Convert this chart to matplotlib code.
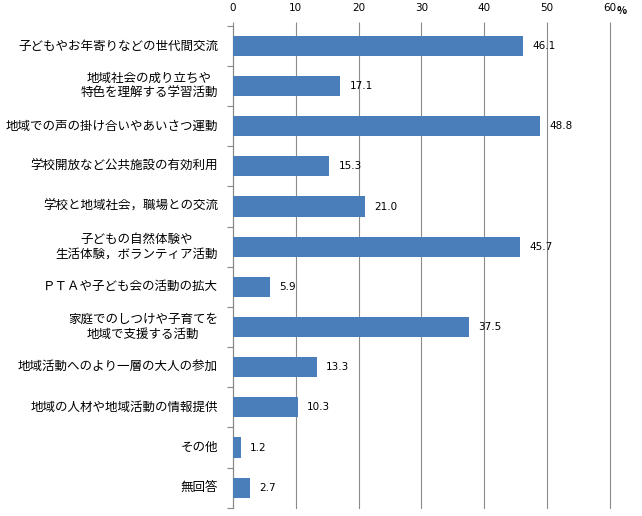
import numpy as np
import matplotlib
matplotlib.use("Agg")
import matplotlib.pyplot as plt

plt.rcParams['font.family'] = ['Noto Sans CJK JP', 'DejaVu Sans']

categories = [
    "子どもやお年寄りなどの世代間交流",
    "地域社会の成り立ちや\n特色を理解する学習活動",
    "地域での声の掛け合いやあいさつ運動",
    "学校開放など公共施設の有効利用",
    "学校と地域社会，職場との交流",
    "子どもの自然体験や\n生活体験，ボランティア活動",
    "ＰＴＡや子ども会の活動の拡大",
    "家庭でのしつけや子育てを\n地域で支援する活動",
    "地域活動へのより一層の大人の参加",
    "地域の人材や地域活動の情報提供",
    "その他",
    "無回答",
]
values = [46.1, 17.1, 48.8, 15.3, 21.0, 45.7, 5.9, 37.5, 13.3, 10.3, 1.2, 2.7]
xticks = [0, 10, 20, 30, 40, 50, 60]

fig = plt.figure(figsize=(6.42, 5.16), dpi=100)
ax = fig.add_axes([0.363, 0.016, 0.587, 0.934])

y = np.arange(len(categories))
ax.barh(y, values, height=0.5, color='#4a7ebb', zorder=3)
for yi, v in zip(y, values):
    ax.text(v + 1.5, yi, f"{v:.1f}", va='center', ha='left', fontsize=7.5,
            family='DejaVu Sans', zorder=4)

ax.set_xlim(0, 60)
ax.set_ylim(len(categories) - 0.5, -0.5)
ax.xaxis.tick_top()
ax.set_xticks(xticks)
ax.set_xticklabels([str(t) for t in xticks], family='DejaVu Sans')
ax.tick_params(axis='x', direction='out', length=3, color='#888888', labelsize=7.5, pad=6)
ax.grid(axis='x', color='#8c8c8c', linewidth=0.8, zorder=0)
for gl in ax.get_xgridlines():
    gl.set_clip_on(False)

ax.set_yticks(np.arange(len(categories) + 1) - 0.5)
ax.set_yticklabels([])
ax.tick_params(axis='y', direction='out', length=4, color='#888888')
for yi, c in zip(y, categories):
    ax.text(-2.4, yi, c, ha='right', va='center', multialignment='center', fontsize=9)

for s in ['top', 'right', 'bottom']:
    ax.spines[s].set_visible(False)
ax.spines['left'].set_color('#888888')

fig.text(0.968, 0.978, "%", fontsize=7.5, ha='center', va='center', fontweight='bold')

fig.savefig("out.png", dpi=100)
